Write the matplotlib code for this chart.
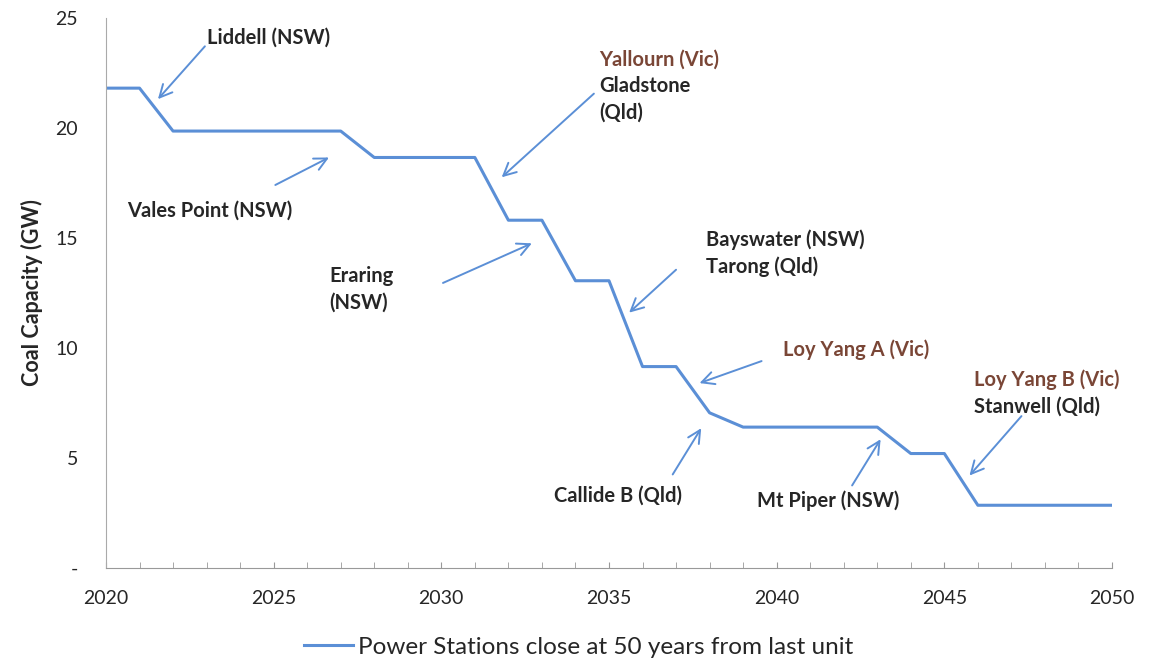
import matplotlib
matplotlib.use("Agg")
from matplotlib import pyplot as plt
from matplotlib.ticker import MultipleLocator, FixedLocator

plt.rcParams["font.family"] = ["Lato", "DejaVu Sans"]

years = list(range(2020, 2051))
capacity = [21.8, 21.8, 19.85, 19.85, 19.85, 19.85, 19.85, 19.85, 18.65, 18.65,
            18.65, 18.65, 15.8, 15.8, 13.05, 13.05, 9.15, 9.15, 7.05, 6.4,
            6.4, 6.4, 6.4, 6.4, 5.2, 5.2, 2.85, 2.85, 2.85, 2.85, 2.85]

y_ticks = [0, 5, 10, 15, 20, 25]
y_tick_labels = ["-", "5", "10", "15", "20", "25"]
x_ticks = [2020, 2025, 2030, 2035, 2040, 2045, 2050]

# (text lines, first line xy, arrow tail xy, arrow head xy, colour per line)
dark = "#262626"
brown = "#7a4636"
notes = [
    (["Liddell (NSW)"], (2023.0, 24.1), (2022.95, 23.7), (2021.55, 21.3), [dark]),
    (["Vales Point (NSW)"], (2020.63, 16.23), (2025.05, 17.4), (2026.65, 18.65), [dark]),
    (["Eraring", "(NSW)"], (2026.66, 13.27), (2030.05, 12.95), (2032.7, 14.75), [dark, dark]),
    (["Yallourn (Vic)", "Gladstone", "(Qld)"], (2034.72, 23.09), (2034.55, 21.55),
     (2031.8, 17.75), [brown, dark, dark]),
    (["Bayswater (NSW)", "Tarong (Qld)"], (2037.88, 14.91), (2037.0, 13.55), (2035.6, 11.6),
     [dark, dark]),
    (["Loy Yang A (Vic)"], (2040.18, 9.91), (2039.55, 9.4), (2037.7, 8.4), [brown]),
    (["Callide B (Qld)"], (2033.37, 3.27), (2036.9, 4.25), (2037.75, 6.35), [dark]),
    (["Mt Piper (NSW)"], (2039.4, 3.05), (2042.25, 3.75), (2043.1, 5.85), [dark]),
    (["Loy Yang B (Vic)", "Stanwell (Qld)"], (2045.88, 8.55), (2047.3, 6.9), (2045.75, 4.2),
     [brown, dark]),
]

line_color = "#5b8fd6"

fig = plt.figure(figsize=(11.57, 6.63), dpi=100)
ax = fig.add_axes([0.0916, 0.1433, 0.8695, 0.83])

ax.plot(years, capacity, color=line_color, linewidth=2.2,
        label="Power Stations close at 50 years from last unit")

for lines, txt_xy, tail, head, colours in notes:
    ax.annotate("", xy=head, xytext=tail,
                arrowprops=dict(arrowstyle="->,head_length=0.9,head_width=0.45",
                                color=line_color, lw=1.4, shrinkA=0, shrinkB=0))
    for i, (s, c) in enumerate(zip(lines, colours)):
        ax.text(txt_xy[0], txt_xy[1] - i * 1.2, s, color=c, fontsize=14.5,
                fontweight="bold", va="center", ha="left")

ax.set_xlim(2020, 2050)
ax.set_ylim(0, 25)
ax.xaxis.set_major_locator(FixedLocator(x_ticks))
ax.xaxis.set_minor_locator(MultipleLocator(1))
ax.tick_params(axis="x", which="both", direction="in", length=4, color="#999999",
               labelsize=14, pad=16, labelcolor="#262626")
ax.set_yticks(y_ticks)
ax.set_yticklabels(y_tick_labels)
ax.tick_params(axis="y", length=0, labelsize=14, pad=20, labelcolor="#262626")

for side in ["top", "right"]:
    ax.spines[side].set_visible(False)
ax.spines["bottom"].set_color("#999999")
ax.spines["left"].set_color("#aaaaaa")
ax.spines["left"].set_linestyle((0, (1, 1)))
ax.spines["left"].set_linewidth(0.8)
ax.spines["bottom"].set_linewidth(0.8)

ax.set_ylabel("Coal Capacity (GW)", fontsize=15.5, fontweight="bold", color="#262626",
              labelpad=9)

fig.legend(loc="lower center", bbox_to_anchor=(0.5, -0.025), frameon=False,
           fontsize=17.5, handlelength=2.0, handletextpad=0.2,
           labelcolor="#262626")

fig.savefig("out.png", dpi=100)
